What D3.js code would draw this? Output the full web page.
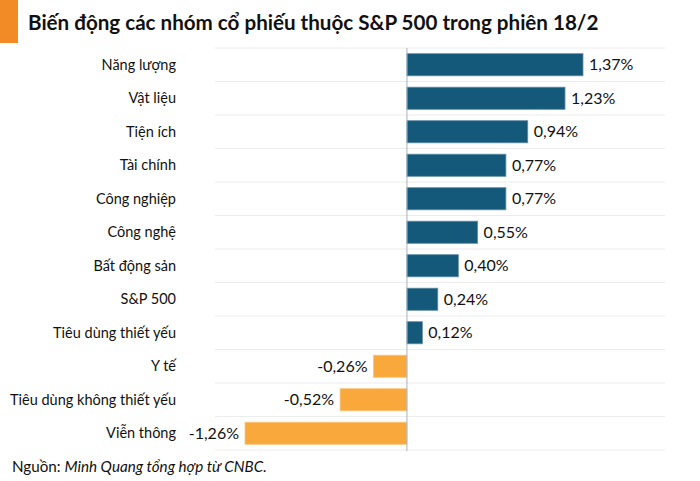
<!DOCTYPE html>
<html><head><meta charset="utf-8">
<script src="https://cdn.jsdelivr.net/npm/d3@7"></script>
<style>body{margin:0;background:#fff}svg{display:block;font-family:Lato,sans-serif}</style>
</head><body><svg id="c" width="700" height="481"></svg>
<script>
const categories = ["Năng lượng","Vật liệu","Tiện ích","Tài chính","Công nghiệp","Công nghệ","Bất động sản","S&P 500","Tiêu dùng thiết yếu","Y tế","Tiêu dùng không thiết yếu","Viễn thông"];
const values = [1.37,1.23,0.94,0.77,0.77,0.55,0.40,0.24,0.12,-0.26,-0.52,-1.26];
const title = "Biến động các nhóm cổ phiếu thuộc S&P 500 trong phiên 18/2";

const svg = d3.select("#c");
svg.append("rect").attr("x",0).attr("y",0).attr("width",18).attr("height",43).attr("fill","#f28a25");
svg.append("text").attr("x",28).attr("y",30).attr("font-size",20.6).attr("font-weight",700).attr("fill","#111").text(title);

const x = d3.scaleLinear().domain([-1.26,1.37]).range([245,583]);
const y = d3.scaleBand().domain(categories).range([48,450]).paddingInner(0.34).paddingOuter(0.17);
const step = y.step();

const g = svg.append("g");
const lines = d3.range(categories.length+1).map(i=>48+i*step);
g.selectAll("line.grid").data(lines).join("line")
 .attr("x1",215).attr("x2",665).attr("y1",d=>d).attr("y2",d=>d)
 .attr("stroke","#ececec").attr("stroke-width",1);

g.selectAll("rect.bar").data(values).join("rect")
 .attr("x",d=>x(Math.min(0,d))).attr("width",d=>Math.abs(x(d)-x(0)))
 .attr("y",(d,i)=>y(categories[i])).attr("height",y.bandwidth())
 .attr("fill",d=>d>=0?"#14587a":"#f9a83b")
 .attr("stroke",d=>d>=0?"#5f8ea6":"#fcc67c").attr("stroke-width",0.8);

g.append("line").attr("x1",x(0)).attr("x2",x(0)).attr("y1",48).attr("y2",451).attr("stroke","#a9b3bd").attr("stroke-width",1);

const fmt = v => (v<0?"-":"")+d3.format(".2f")(Math.abs(v)).replace(".",",")+"%";
g.selectAll("text.val").data(values).join("text")
 .attr("x",d=>d>=0?x(d)+6:x(d)-6)
 .attr("text-anchor",d=>d>=0?"start":"end")
 .attr("y",(d,i)=>y(categories[i])+y.bandwidth()/2).attr("dy","0.35em")
 .attr("font-size",16).attr("fill","#111").text(fmt);

g.selectAll("text.cat").data(categories).join("text")
 .attr("x",176).attr("text-anchor","end")
 .attr("y",d=>y(d)+y.bandwidth()/2).attr("dy","0.35em")
 .attr("font-size",14.5).attr("fill","#111").text(d=>d);

const src = svg.append("text").attr("x",12).attr("y",472).attr("font-size",15.2).attr("fill","#111");
src.append("tspan").text("Nguồn: ");
src.append("tspan").attr("font-style","italic").text("Minh Quang tổng hợp từ CNBC.");
</script></body></html>
